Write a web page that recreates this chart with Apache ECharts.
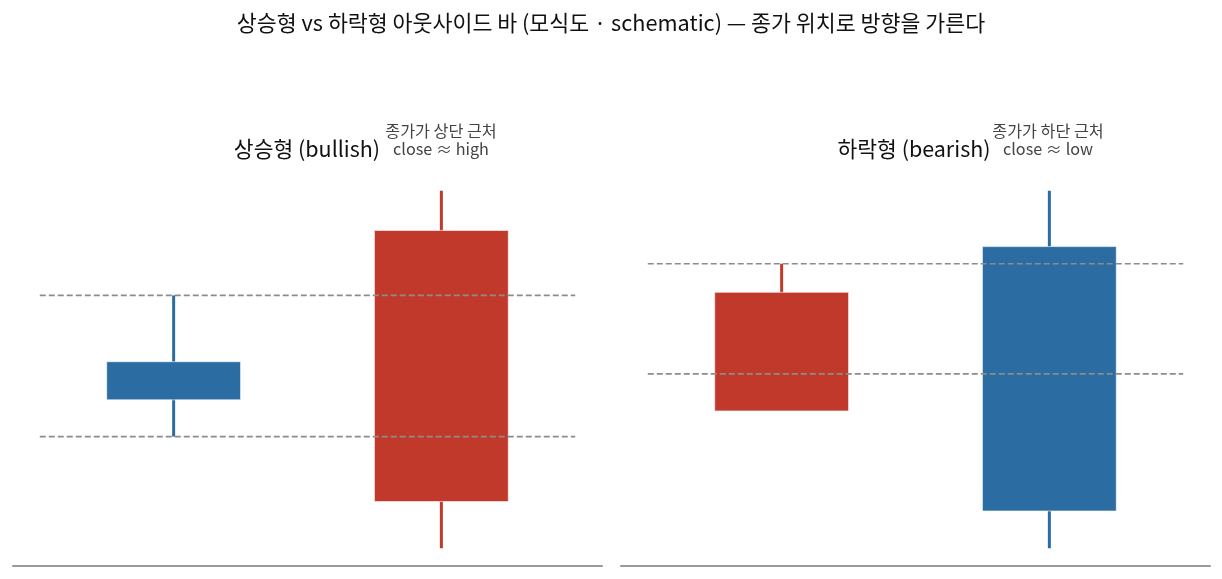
<!DOCTYPE html>
<html>
<head>
<meta charset="utf-8">
<script src="https://cdn.jsdelivr.net/npm/echarts@6/dist/echarts.min.js"></script>
<style>
  html, body { margin: 0; padding: 0; background: #fff; }
  #chart { width: 1222px; height: 579px; }
</style>
</head>
<body>
<div id="chart"></div>
<script>
// 캔들 데이터: [x, open, close, low, high]
var bullCandles = [
  [0, 100.3, 97.6, 95.0, 105.0],
  [1, 90.4, 109.6, 87.1, 112.4]
];
var bearCandles = [
  [0, 97.1, 105.4, 97.1, 107.4],
  [1, 108.6, 90.1, 87.5, 112.5]
];
// 점선 기준 레벨 (직전 봉 고가/저가)
var bullLevels = [105.0, 95.0];
var bearLevels = [107.4, 99.7];
var levelSpan = [-0.5, 1.5];

var mainTitle = '상승형 vs 하락형 아웃사이드 바 (모식도 · schematic) — 종가 위치로 방향을 가른다';
var panelTitles = ['상승형 (bullish)', '하락형 (bearish)'];
var panelNotes = ['종가가 상단 근처\nclose ≈ high', '종가가 하단 근처\nclose ≈ low'];

var UP = '#c0392b', DOWN = '#2b6ca3';
var FONT = '"Noto Sans CJK KR", "Noto Sans", sans-serif';

function yRange(candles) {
  var lo = Infinity, hi = -Infinity;
  candles.forEach(function (d) { lo = Math.min(lo, d[3]); hi = Math.max(hi, d[4]); });
  var pad = (hi - lo) * 0.05;
  return [lo - pad, hi + pad];
}

function renderCandle(params, api) {
  var x = api.value(0), o = api.value(1), c = api.value(2), l = api.value(3), h = api.value(4);
  var top = api.coord([x, Math.max(o, c)]);
  var bot = api.coord([x, Math.min(o, c)]);
  var pHigh = api.coord([x, h]);
  var pLow = api.coord([x, l]);
  var w = api.size([0.5, 0])[0];
  var color = c > o ? UP : DOWN;
  return {
    type: 'group',
    children: [
      { type: 'line', shape: { x1: pHigh[0], y1: pHigh[1], x2: pLow[0], y2: pLow[1] },
        style: { stroke: color, lineWidth: 3 } },
      { type: 'rect', shape: { x: top[0] - w / 2, y: top[1], width: w, height: bot[1] - top[1] },
        style: { fill: color, stroke: 'rgba(255,255,255,0.6)', lineWidth: 1 } }
    ]
  };
}

function levelSeries(levels, idx) {
  return levels.map(function (v) {
    return {
      type: 'line', xAxisIndex: idx, yAxisIndex: idx, symbol: 'none', silent: true, z: 5,
      lineStyle: { color: '#8c8c8c', width: 1.7, type: [6, 3] },
      data: [[levelSpan[0], v], [levelSpan[1], v]]
    };
  });
}

var bullY = yRange(bullCandles), bearY = yRange(bearCandles);

var grids = [
  { left: 13, width: 589, top: 173, bottom: 13 },
  { left: 621, width: 589, top: 173, bottom: 13 }
];

var xAxes = [0, 1].map(function (i) {
  return {
    type: 'value', gridIndex: i, min: -0.6, max: 1.6,
    axisLine: { show: true, onZero: false, lineStyle: { color: '#999', width: 2 } },
    axisTick: { show: false }, axisLabel: { show: false }, splitLine: { show: false }
  };
});
var yAxes = [bullY, bearY].map(function (r, i) {
  return { type: 'value', gridIndex: i, min: r[0], max: r[1], show: false, splitLine: { show: false } };
});

var option = {
  backgroundColor: '#fff',
  animation: false,
  title: [
    { text: mainTitle, left: 'center', top: 7,
      textStyle: { fontFamily: FONT, fontSize: 21.7, fontWeight: 'normal', color: '#111' } },
    { text: panelTitles[0], left: 302, top: 133, textAlign: 'center',
      textStyle: { fontFamily: FONT, fontSize: 21.5, fontWeight: 'normal', color: '#111' } },
    { text: panelTitles[1], left: 909, top: 133, textAlign: 'center',
      textStyle: { fontFamily: FONT, fontSize: 21.5, fontWeight: 'normal', color: '#111' } }
  ],
  graphic: [
    { type: 'text', x: 441, y: 122,
      style: { text: panelNotes[0], font: '16.2px ' + FONT, fill: '#444', align: 'center', verticalAlign: 'top', lineHeight: 18 } },
    { type: 'text', x: 1048, y: 122,
      style: { text: panelNotes[1], font: '16.2px ' + FONT, fill: '#444', align: 'center', verticalAlign: 'top', lineHeight: 18 } }
  ],
  grid: grids,
  xAxis: xAxes,
  yAxis: yAxes,
  series: [
    { type: 'custom', xAxisIndex: 0, yAxisIndex: 0, renderItem: renderCandle, data: bullCandles, z: 2,
      encode: { x: 0, y: [1, 2, 3, 4] } },
    { type: 'custom', xAxisIndex: 1, yAxisIndex: 1, renderItem: renderCandle, data: bearCandles, z: 2,
      encode: { x: 0, y: [1, 2, 3, 4] } }
  ].concat(levelSeries(bullLevels, 0), levelSeries(bearLevels, 1))
};

var chart = echarts.init(document.getElementById('chart'));
chart.setOption(option);
</script>
</body>
</html>
